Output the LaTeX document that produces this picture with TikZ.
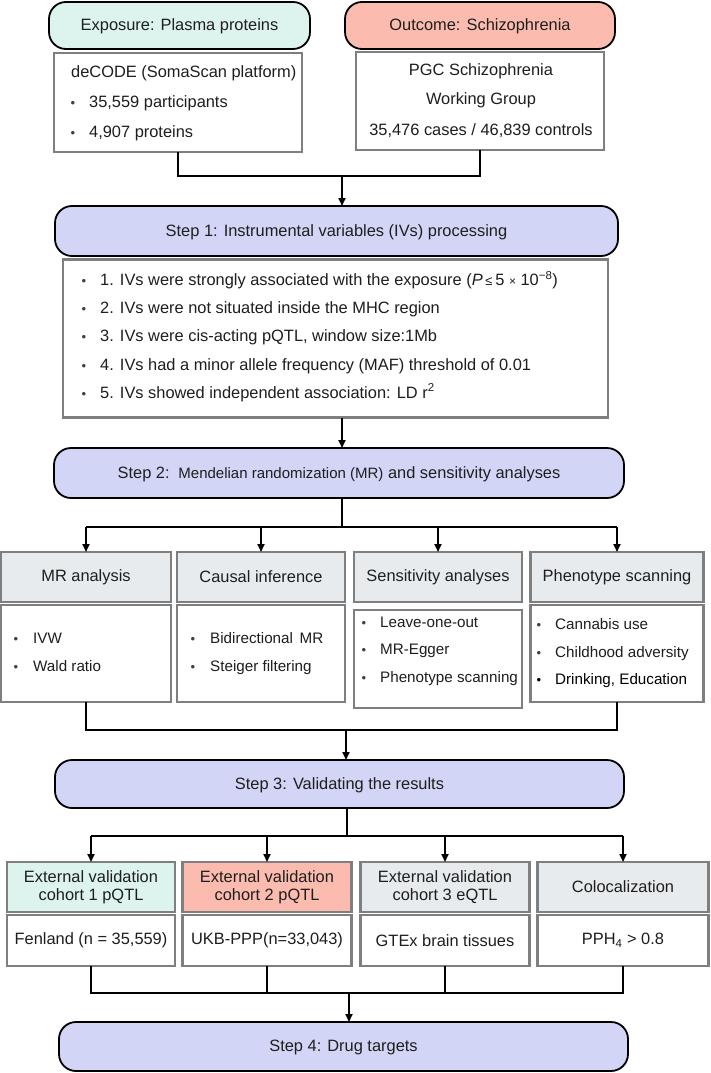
\documentclass[tikz,border=0pt]{standalone}
\usepackage{fontspec}
\setmainfont{Liberation Sans}
\usetikzlibrary{arrows.meta}
\definecolor{mint}{HTML}{DDF4EE}
\definecolor{salmon}{HTML}{FBBCAF}
\definecolor{lav}{HTML}{D3D5F6}
\definecolor{hgray}{HTML}{E8EBEE}
\definecolor{bgray}{HTML}{7F7F7F}
\definecolor{txt}{HTML}{1E1E1E}
\newcommand\fmain{\fontsize{16.4}{19}\selectfont}
\newcommand\fsmall{\fontsize{15.2}{18}\selectfont}
\newcommand\fmid{\fontsize{15}{18}\selectfont}
\newcommand\fbul{\fontsize{13}{14}\selectfont}
\begin{document}
\begin{tikzpicture}[x=1pt,y=-1pt,
  pill/.style={draw=black, line width=1.8pt, rounded corners=17pt, fill=#1, inner sep=0pt, outer sep=0pt, font=\fmain, text=txt, text depth=0.12em},
  gbox/.style={draw=bgray, line width=2.4pt, fill=#1, inner sep=0pt, outer sep=0pt, font=\fmain, text=txt, align=center},
  ltxt/.style={anchor=base west, inner sep=0pt, font=\fmain, text=txt},
  stxt/.style={anchor=base west, inner sep=0pt, font=\fsmall, text=txt},
  ctxt/.style={anchor=base, inner sep=0pt, font=\fmain, text=txt},
  bul/.style={anchor=base, inner sep=0pt, font=\fbul, text=txt!85},
  conn/.style={draw=black, line width=1.8pt},
  arr/.style={conn, -{Triangle[length=8pt,width=7pt]}}
]
\useasboundingbox (0,0) rectangle (711,1073);

% ---------- top ----------
\node[pill=mint, minimum width=261pt, minimum height=47pt] (expo) at (179.5,25.5) {Exposure: Plasma proteins};
\node[pill=salmon, minimum width=270pt, minimum height=47pt] (outc) at (480,25.5) {Outcome: Schizophrenia};
\node[gbox=white, minimum width=248pt, minimum height=99pt] (deco) at (178,102.5) {};
\node[gbox=white, minimum width=248pt, minimum height=98pt] (pgc) at (480,101) {};

\node[ltxt] (d1) at (71,77.3) {deCODE (SomaScan platform)};
\node[bul] (db1) at (73,107.3) {•};
\node[ltxt] (d2) at (89,107.3) {35,559 participants};
\node[bul] (db2) at (73,137.3) {•};
\node[ltxt] (d3) at (89,137.3) {4,907 proteins};

\node[ctxt] (p1) at (481,75) {PGC Schizophrenia};
\node[ctxt] (p2) at (481,104.5) {Working Group};
\node[ctxt] (p3) at (481,135) {35,476 cases / 46,839 controls};

\coordinate (j1) at (342,176);
\draw[conn] (deco.south) |- (j1) -| (pgc.south);

% ---------- step 1 ----------
\node[pill=lav, minimum width=563pt, minimum height=50pt] (s1) at (336.5,231) {Step 1: Instrumental variables (IVs) processing};
\draw[arr] (j1) -- (j1 |- s1.north);

\node[gbox=white, minimum width=545pt, minimum height=158pt] (crit) at (335.5,338.5) {};
\foreach \yy/\tt [count=\i] in {
  285.5/{1. IVs were strongly associated with the exposure (\textit{P}\,{\fontsize{13}{14}\selectfont ≤}\,5 {\fontsize{12}{14}\selectfont ×} 10\textsuperscript{−8})},
  313.5/{2. IVs were not situated inside the MHC region},
  341.5/{3. IVs were cis-acting pQTL, window size:1Mb},
  370/{4. IVs had a minor allele frequency (MAF) threshold of 0.01},
  398/{5. IVs showed independent association: LD r\textsuperscript{2}}}{
  \node[bul] (cb\i) at (84,\yy) {•};
  \node[ltxt] (ct\i) at (100,\yy) {\tt};
}

% ---------- step 2 ----------
\node[pill=lav, minimum width=570pt, minimum height=50pt] (s2) at (339,473) {Step 2:\, {\fmid Mendelian randomization (MR)} and sensitivity analyses};
\coordinate (j2) at (342,418);
\draw[arr] (crit.south -| j2) -- (s2.north -| j2);

\node[gbox=hgray, minimum width=170pt, minimum height=50pt] (h1) at (86,577) {MR analysis};
\node[gbox=hgray, minimum width=168pt, minimum height=50pt] (h2) at (261,577) {Causal inference};
\node[gbox=hgray, minimum width=168pt, minimum height=50pt] (h3) at (438,577) {Sensitivity analyses};
\node[gbox=hgray, minimum width=173pt, minimum height=50pt] (h4) at (617,577) {Phenotype scanning};

\coordinate (sp2) at (342,527);
\draw[conn] (s2.south -| sp2) -- (sp2);
\draw[conn] (sp2 -| h1.north) -- (sp2 -| h4.north);
\foreach \h in {h1,h2,h3,h4}{ \draw[arr] (sp2 -| \h.north) -- (\h.north); }

\node[gbox=white, minimum width=170pt, minimum height=97pt] (c1) at (86,653.5) {};
\node[gbox=white, minimum width=168pt, minimum height=97pt] (c2) at (261,653.5) {};
\node[gbox=white, minimum width=168pt, minimum height=98pt] (c3) at (438,659) {};
\node[gbox=white, minimum width=173pt, minimum height=97pt] (c4) at (617,653.5) {};

\node[bul] (c1b1) at (16,643) {•};  \node[stxt] (c1t1) at (33,643) {IVW};
\node[bul] (c1b2) at (16,671) {•};  \node[stxt] (c1t2) at (33,671) {Wald ratio};
\node[bul] (c2b1) at (193,643) {•}; \node[stxt] (c2t1) at (210,643) {Bidirectional\, MR};
\node[bul] (c2b2) at (193,671) {•}; \node[stxt] (c2t2) at (210,671) {Steiger filtering};
\node[bul] (c3b1) at (364,627) {•}; \node[stxt] (c3t1) at (380,627) {Leave-one-out};
\node[bul] (c3b2) at (364,654.5) {•}; \node[stxt] (c3t2) at (380,654.5) {MR-Egger};
\node[bul] (c3b3) at (364,682) {•}; \node[stxt] (c3t3) at (380,682) {Phenotype scanning};
\node[bul] (c4b1) at (539,629) {•}; \node[stxt] (c4t1) at (555,629) {Cannabis use};
\node[bul] (c4b2) at (539,657) {•}; \node[stxt] (c4t2) at (555,657) {Childhood adversity};
\node[bul, text=black] (c4b3) at (539,684) {•}; \node[stxt, text=black] (c4t3) at (555,684) {Drinking, Education};

% ---------- step 3 ----------
\node[pill=lav, minimum width=569pt, minimum height=48pt] (s3) at (339.5,784) {Step 3: Validating the results};
\coordinate (j3) at (346,730);
\draw[conn] (c1.south) |- (j3) -| (c4.south);
\draw[arr] (j3) -- (j3 |- s3.north);

\node[gbox=mint, minimum width=168pt, minimum height=50pt] (v1) at (91,887) {External validation\\[-1pt]cohort 1 pQTL};
\node[gbox=salmon, minimum width=169pt, minimum height=50pt] (v2) at (267,887) {External validation\\[-1pt]cohort 2 pQTL};
\node[gbox=hgray, minimum width=169pt, minimum height=50pt] (v3) at (445,887) {External validation\\[-1pt]cohort 3 eQTL};
\node[gbox=hgray, minimum width=171pt, minimum height=50pt] (v4) at (623,887) {Colocalization};

\coordinate (sp3) at (347,836);
\draw[conn] (s3.south -| sp3) -- (sp3);
\draw[conn] (sp3 -| v1.north) -- (sp3 -| v4.north);
\foreach \v in {v1,v2,v3,v4}{ \draw[arr] (sp3 -| \v.north) -- (\v.north); }

\node[gbox=white, minimum width=168pt, minimum height=51pt] (w1) at (91,940.5) {Fenland (n = 35,559)};
\node[gbox=white, minimum width=169pt, minimum height=51pt] (w2) at (267,940.5) {UKB-PPP(n=33,043)};
\node[gbox=white, minimum width=169pt, minimum height=51pt] (w3) at (445,940.5) {GTEx brain tissues};
\node[gbox=white, minimum width=171pt, minimum height=51pt] (w4) at (623,940.5) {PPH\textsubscript{4} > 0.8};

% ---------- step 4 ----------
\node[pill=lav, minimum width=569pt, minimum height=49pt] (s4) at (343.5,1046.5) {Step 4: Drug targets};
\coordinate (j4) at (349,993);
\draw[conn] (w1.south) |- (j4) -| (w4.south);
\draw[conn] (w2.south) -- (w2.south |- j4);
\draw[conn] (w3.south) -- (w3.south |- j4);
\draw[arr] (j4) -- (j4 |- s4.north);
\end{tikzpicture}
\end{document}
